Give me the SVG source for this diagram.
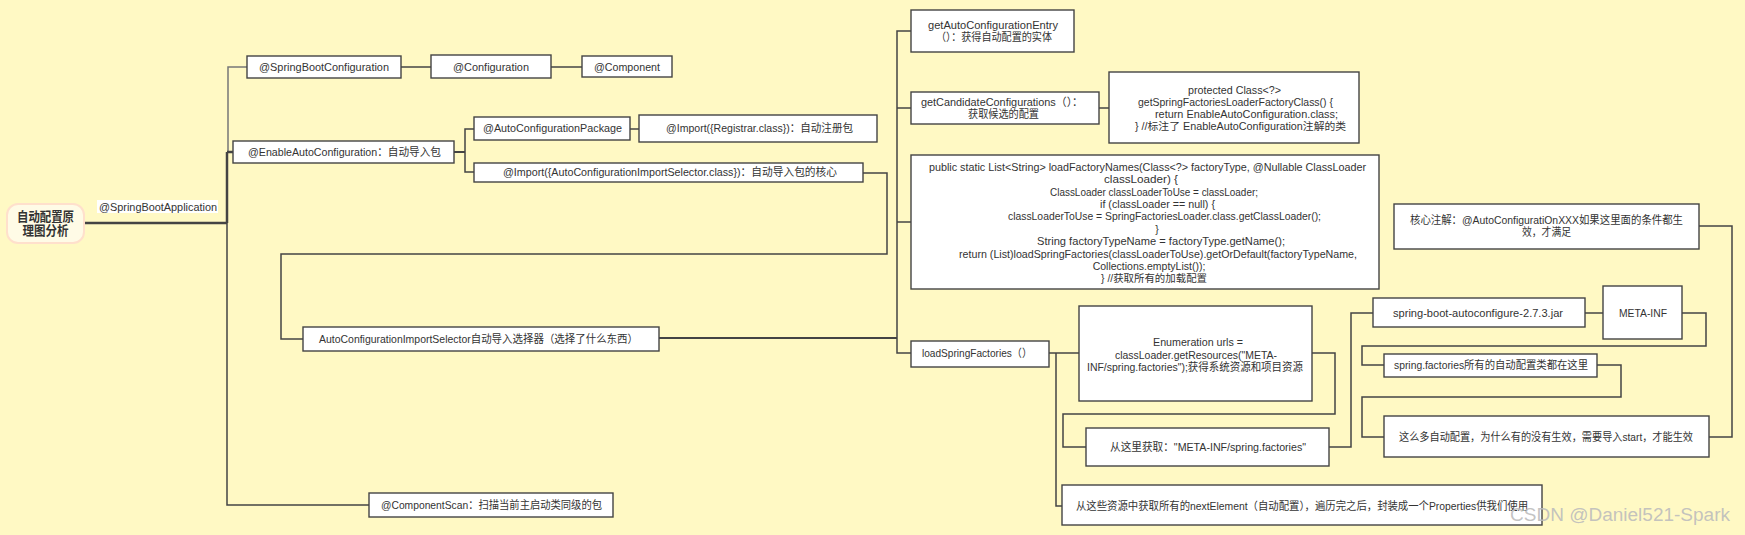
<svg xmlns="http://www.w3.org/2000/svg" width="1745" height="535" viewBox="0 0 1745 535">
<style>
.bg{fill:#fff9c4}
.box{fill:#ffffff;stroke:#444444;stroke-width:1.4}
.t{font-family:"Liberation Sans","Noto Sans CJK SC",sans-serif;font-size:11px;fill:#333333;text-anchor:middle}
.c{font-family:"Liberation Sans","Noto Sans CJK SC",sans-serif;font-size:10.5px;fill:#333333;text-anchor:middle}
.ln{fill:none;stroke:#444444;stroke-width:1.5}
.thick{fill:none;stroke:#444444;stroke-width:2.5}
.light{fill:none;stroke:#777777;stroke-width:1.5}
</style>
<rect class="bg" x="0" y="0" width="1745" height="535"/>
<g id="connectors">
<path class="thick" d="M84,223 H227"/>
<path class="thick" d="M227,152 V223"/>
<path class="light" d="M247,67 H228 V152"/>
<path class="thick" d="M227,152 H233"/>
<path class="ln" d="M227,223 V505 H369"/>
<path class="ln" d="M401,67 H431"/>
<path class="ln" d="M551,67 H582"/>
<path class="ln" style="stroke-width:2" d="M454,152 H465"/>
<path class="ln" d="M474,129 H465 V172 H474"/>
<path class="ln" d="M630,129 H639"/>
<path class="ln" d="M863,173 H887 V254 H281 V339 H303"/>
<path class="ln" style="stroke-width:2" d="M659,338 H897"/>
<path class="ln" d="M911,31 H897 V353 H911"/>
<path class="ln" d="M897,108 H911"/>
<path class="ln" d="M897,222 H911"/>
<path class="ln" d="M1099,108 H1109"/>
<path class="ln" d="M1049,353 H1079"/>
<path class="ln" d="M1056,353 V506 H1062"/>
<path class="ln" d="M1312,353 H1335 V414 H1063 V447 H1086"/>
<path class="ln" d="M1329,447 H1351 V313 H1373"/>
<path class="ln" d="M1585,313 H1603"/>
<path class="ln" d="M1682,313 H1706 V346 H1362 V365 H1384"/>
<path class="ln" d="M1597,365 H1621 V397 H1362 V437 H1384"/>
<path class="ln" d="M1709,437 H1732 V226 H1699"/>
</g>
<g id="root">
<rect x="7" y="204" width="77" height="39" rx="11" fill="#fffbe6" stroke="#ffe0cc" stroke-width="2"/>
<text class="t" style="font-size:13px;font-weight:bold" x="45.5" y="221" textLength="57" lengthAdjust="spacingAndGlyphs">自动配置原</text>
<text class="t" style="font-size:13px;font-weight:bold" x="45.5" y="235" textLength="46" lengthAdjust="spacingAndGlyphs">理图分析</text>
</g>
<g id="label-springbootapplication">
<rect x="97" y="200" width="121" height="13" fill="#ffffff"/>
<text class="t" x="158" y="210.5" textLength="118" lengthAdjust="spacingAndGlyphs">@SpringBootApplication</text>
</g>
<g id="n-springbootconfiguration">
<rect class="box" x="247" y="56" width="154" height="22"/>
<text class="t" x="324" y="71" textLength="130" lengthAdjust="spacingAndGlyphs">@SpringBootConfiguration</text>
</g>
<g id="n-configuration">
<rect class="box" x="431" y="55" width="120" height="23"/>
<text class="t" x="491" y="71" textLength="76" lengthAdjust="spacingAndGlyphs">@Configuration</text>
</g>
<g id="n-component">
<rect class="box" x="582" y="56" width="90" height="21"/>
<text class="t" x="627" y="71" textLength="66" lengthAdjust="spacingAndGlyphs">@Component</text>
</g>
<g id="n-enableautoconfiguration">
<rect class="box" x="233" y="141" width="221" height="22"/>
<text class="t" x="344.5" y="156" textLength="193" lengthAdjust="spacingAndGlyphs">@EnableAutoConfiguration：自动导入包</text>
</g>
<g id="n-autoconfigurationpackage">
<rect class="box" x="474" y="117" width="156" height="23"/>
<text class="t" x="552.5" y="132" textLength="139" lengthAdjust="spacingAndGlyphs">@AutoConfigurationPackage</text>
</g>
<g id="n-import-registrar">
<rect class="box" x="639" y="115" width="238" height="27"/>
<text class="t" x="759.5" y="132" textLength="187" lengthAdjust="spacingAndGlyphs">@Import({Registrar.class})：自动注册包</text>
</g>
<g id="n-import-selector">
<rect class="box" x="474" y="163" width="389" height="19"/>
<text class="t" x="670" y="176" textLength="334" lengthAdjust="spacingAndGlyphs">@Import({AutoConfigurationImportSelector.class})：自动导入包的核心</text>
</g>
<g id="n-selector">
<rect class="box" x="303" y="327" width="356" height="24"/>
<text class="t" x="478.5" y="343" textLength="319" lengthAdjust="spacingAndGlyphs">AutoConfigurationImportSelector自动导入选择器（选择了什么东西）</text>
</g>
<g id="n-componentscan">
<rect class="box" x="369" y="493" width="244" height="24"/>
<text class="t" x="491.5" y="509" textLength="221" lengthAdjust="spacingAndGlyphs">@ComponentScan：扫描当前主启动类同级的包</text>
</g>
<g id="n-getautoconfigurationentry">
<rect class="box" x="911" y="10" width="163" height="42"/>
<text class="t" x="993" y="29" textLength="130" lengthAdjust="spacingAndGlyphs">getAutoConfigurationEntry</text>
<text class="t" x="994" y="41" textLength="116" lengthAdjust="spacingAndGlyphs">（）：获得自动配置的实体</text>
</g>
<g id="n-getcandidateconfigurations">
<rect class="box" x="911" y="92" width="188" height="32"/>
<text class="t" x="1002" y="106" textLength="162" lengthAdjust="spacingAndGlyphs">getCandidateConfigurations（）：</text>
<text class="t" x="1003.5" y="118" textLength="71" lengthAdjust="spacingAndGlyphs">获取候选的配置</text>
</g>
<g id="n-protected">
<rect class="box" x="1109" y="72" width="250" height="71"/>
<text class="c" x="1234.5" y="94" textLength="93" lengthAdjust="spacingAndGlyphs">protected Class&lt;?&gt;</text>
<text class="c" x="1235.5" y="106" textLength="195" lengthAdjust="spacingAndGlyphs">getSpringFactoriesLoaderFactoryClass() {</text>
<text class="c" x="1246.5" y="118" textLength="183" lengthAdjust="spacingAndGlyphs">return EnableAutoConfiguration.class;</text>
<text class="c" x="1240.5" y="130" textLength="211" lengthAdjust="spacingAndGlyphs">} //标注了 EnableAutoConfiguration注解的类</text>
</g>
<g id="n-loadfactorynames">
<rect class="box" x="911" y="155" width="468" height="134"/>
<text class="c" x="1147.5" y="171" textLength="437" lengthAdjust="spacingAndGlyphs">public static List&lt;String&gt; loadFactoryNames(Class&lt;?&gt; factoryType, @Nullable ClassLoader</text>
<text class="c" x="1141" y="183.4" textLength="74" lengthAdjust="spacingAndGlyphs">classLoader) {</text>
<text class="c" x="1154" y="195.7" textLength="208" lengthAdjust="spacingAndGlyphs">ClassLoader classLoaderToUse = classLoader;</text>
<text class="c" x="1157.5" y="208" textLength="115" lengthAdjust="spacingAndGlyphs">if (classLoader == null) {</text>
<text class="c" x="1164.5" y="220.4" textLength="313" lengthAdjust="spacingAndGlyphs">classLoaderToUse = SpringFactoriesLoader.class.getClassLoader();</text>
<text class="c" x="1157" y="232.8">}</text>
<text class="c" x="1161" y="245.1" textLength="248" lengthAdjust="spacingAndGlyphs">String factoryTypeName = factoryType.getName();</text>
<text class="c" x="1158" y="257.5" textLength="398" lengthAdjust="spacingAndGlyphs">return (List)loadSpringFactories(classLoaderToUse).getOrDefault(factoryTypeName,</text>
<text class="c" x="1149" y="269.8">Collections.emptyList());</text>
<text class="c" x="1154" y="282.2" textLength="106" lengthAdjust="spacingAndGlyphs">} //获取所有的加载配置</text>
</g>
<g id="n-loadspringfactories">
<rect class="box" x="911" y="341" width="138" height="26"/>
<text class="t" x="977" y="357" textLength="110" lengthAdjust="spacingAndGlyphs">loadSpringFactories（）</text>
</g>
<g id="n-enumeration">
<rect class="box" x="1079" y="306" width="233" height="95"/>
<text class="t" x="1198" y="346" textLength="90" lengthAdjust="spacingAndGlyphs">Enumeration urls =</text>
<text class="t" x="1196" y="359" textLength="162" lengthAdjust="spacingAndGlyphs">classLoader.getResources("META-</text>
<text class="t" x="1195" y="371" textLength="216" lengthAdjust="spacingAndGlyphs">INF/spring.factories");获得系统资源和项目资源</text>
</g>
<g id="n-fromhere">
<rect class="box" x="1086" y="428" width="243" height="38"/>
<text class="t" x="1208" y="451" textLength="196" lengthAdjust="spacingAndGlyphs">从这里获取："META-INF/spring.factories"</text>
</g>
<g id="n-fromresources">
<rect class="box" x="1062" y="485" width="480" height="40"/>
<text class="t" x="1302" y="510" textLength="452" lengthAdjust="spacingAndGlyphs">从这些资源中获取所有的nextElement（自动配置），遍历完之后，封装成一个Properties供我们使用</text>
</g>
<g id="n-jar">
<rect class="box" x="1373" y="298" width="212" height="29"/>
<text class="t" x="1478" y="317" textLength="170" lengthAdjust="spacingAndGlyphs">spring-boot-autoconfigure-2.7.3.jar</text>
</g>
<g id="n-metainf">
<rect class="box" x="1603" y="286" width="79" height="53"/>
<text class="t" x="1643" y="317" textLength="48" lengthAdjust="spacingAndGlyphs">META-INF</text>
</g>
<g id="n-springfactories">
<rect class="box" x="1384" y="354" width="213" height="23"/>
<text class="t" x="1491" y="369" textLength="194" lengthAdjust="spacingAndGlyphs">spring.factories所有的自动配置类都在这里</text>
</g>
<g id="n-somany">
<rect class="box" x="1384" y="416" width="325" height="41"/>
<text class="t" x="1546" y="441" textLength="294" lengthAdjust="spacingAndGlyphs">这么多自动配置，为什么有的没有生效，需要导入start，才能生效</text>
</g>
<g id="n-core">
<rect class="box" x="1394" y="204" width="305" height="45"/>
<text class="t" x="1546.5" y="224" textLength="273" lengthAdjust="spacingAndGlyphs">核心注解：@AutoConfiguratiOnXXX如果这里面的条件都生</text>
<text class="t" x="1546.5" y="236" textLength="49" lengthAdjust="spacingAndGlyphs">效，才满足</text>
</g>
<text x="1510" y="521" font-family="Liberation Sans, sans-serif" font-size="18" fill="#bcbcbc" fill-opacity="0.9" textLength="220" lengthAdjust="spacingAndGlyphs">CSDN @Daniel521-Spark</text>
</svg>
